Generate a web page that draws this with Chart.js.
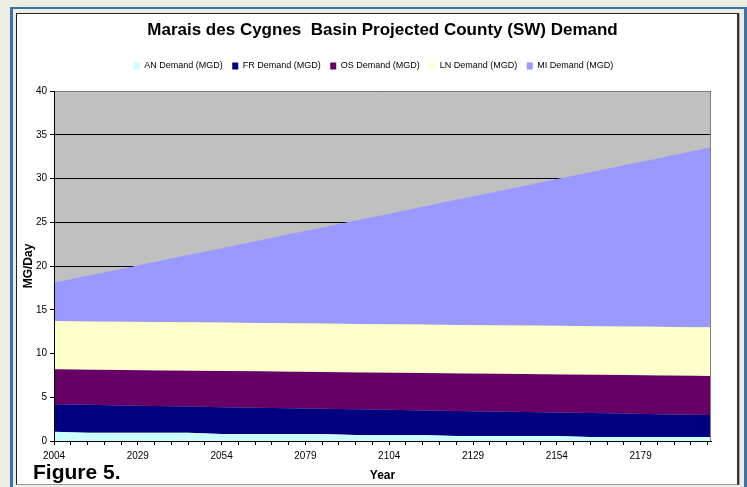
<!DOCTYPE html>
<html>
<head>
<meta charset="utf-8">
<title>Marais des Cygnes Basin Projected County (SW) Demand</title>
<script src="https://cdn.jsdelivr.net/npm/chart.js@4.4.1/dist/chart.umd.min.js"></script>
<style>
  html, body { margin: 0; padding: 0; }
  body { width: 747px; height: 487px; overflow: hidden; position: relative; background: #eceee1; }
  #frame { position: absolute; left: 10px; top: 7px; width: 737px; height: 520px; box-sizing: border-box; border: 3px solid #3f70a8; border-top-width: 2px; }
  #box { position: absolute; left: 16px; top: 13px; width: 723px; height: 472px; box-sizing: border-box; background: #fff; border: 1px solid #222; border-right: 2px solid #333; border-bottom: 1px solid #999; box-shadow: 1px 0 0 #aaa; }
  canvas { position: absolute; left: 0; top: 0; }
  #fig { position: absolute; left: 33px; top: 461px; font: bold 21px/21px 'Liberation Sans', Arial, sans-serif; color: #000; }
</style>
</head>
<body>
<div id="frame"></div>
<div id="box"></div>
<canvas id="demandChart" width="747" height="487"></canvas>
<div id="fig">Figure 5.</div>
<script>
// values (MGD), each series on its own, stacked by the chart
const years = [2004, 2014, 2024, 2034, 2044, 2054, 2064, 2074, 2084, 2094, 2104,
               2114, 2124, 2134, 2144, 2154, 2164, 2174, 2184, 2194, 2200];
const anDemand = [1.06, 0.95, 0.95, 0.95, 0.95, 0.80, 0.80, 0.80, 0.80, 0.69, 0.69,
                  0.69, 0.57, 0.57, 0.57, 0.57, 0.45, 0.45, 0.45, 0.45, 0.45];
const frDemand = [3.13, 3.18, 3.12, 3.05, 2.98, 3.07, 3.01, 2.95, 2.89, 2.93, 2.87,
                  2.81, 2.87, 2.81, 2.74, 2.68, 2.74, 2.68, 2.61, 2.55, 2.52];
const osDemand = [4.00, 4.02, 4.04, 4.07, 4.10, 4.12, 4.15, 4.17, 4.19, 4.22, 4.24,
                  4.26, 4.28, 4.30, 4.34, 4.36, 4.38, 4.40, 4.43, 4.45, 4.46];
const lnDemand = [5.52, 5.52, 5.53, 5.53, 5.53, 5.54, 5.53, 5.53, 5.54, 5.54, 5.54,
                  5.55, 5.55, 5.55, 5.55, 5.55, 5.55, 5.56, 5.56, 5.56, 5.56];
const miDemand = [4.38, 5.21, 6.03, 6.86, 7.69, 8.51, 9.34, 10.17, 10.98, 11.81, 12.64,
                  13.46, 14.29, 15.12, 15.94, 16.77, 17.60, 18.42, 19.25, 20.08, 20.57];

const seriesNames = ['AN Demand (MGD)', 'FR Demand (MGD)', 'OS Demand (MGD)', 'LN Demand (MGD)', 'MI Demand (MGD)'];
const seriesColors = ['#ccffff', '#000080', '#660066', '#ffffcc', '#9999ff'];
const seriesData = [anDemand, frDemand, osDemand, lnDemand, miDemand];

const yearLabels = [2004, 2029, 2054, 2079, 2104, 2129, 2154, 2179];
const yTicks = [0, 5, 10, 15, 20, 25, 30, 35, 40];

// minor tick every 5 years, label only every 25
const tickYears = [];
for (let y = 2004; y < 2200; y += 5) tickYears.push(y);

Chart.defaults.font.family = "'Liberation Sans', Arial, sans-serif";
Chart.defaults.color = '#000';

const plotFrame = {
  id: 'plotFrame',
  beforeDraw(chart) {
    const { ctx, chartArea: a } = chart;
    ctx.save();
    ctx.fillStyle = '#c0c0c0';
    ctx.fillRect(a.left, a.top, a.right - a.left, a.bottom - a.top);
    ctx.restore();
  },
  afterDatasetsDraw(chart) {
    const { ctx, chartArea: a } = chart;
    ctx.save();
    ctx.lineWidth = 1;
    ctx.strokeStyle = '#808080';
    ctx.beginPath();
    ctx.moveTo(a.left, a.top + 0.5);
    ctx.lineTo(a.right - 0.5, a.top + 0.5);
    ctx.lineTo(a.right - 0.5, a.bottom);
    ctx.stroke();
    ctx.strokeStyle = '#000';
    ctx.beginPath();
    ctx.moveTo(a.left + 0.5, a.top);
    ctx.lineTo(a.left + 0.5, a.bottom);
    ctx.stroke();
    ctx.restore();
  }
};

const ctx = document.getElementById('demandChart').getContext('2d');
new Chart(ctx, {
  type: 'line',
  data: {
    labels: years,
    datasets: seriesData.map((values, i) => ({
      label: seriesNames[i],
      data: values,
      backgroundColor: seriesColors[i],
      borderColor: 'rgba(0,0,0,0)',
      borderWidth: 0,
      fill: i === 0 ? 'origin' : '-1',
      pointRadius: 0,
      pointHoverRadius: 0,
      tension: 0
    }))
  },
  options: {
    responsive: false,
    animation: false,
    devicePixelRatio: 1,
    layout: { padding: { top: 14, bottom: 4, left: 0, right: 0 } },
    plugins: {
      title: {
        display: true,
        text: 'Marais des Cygnes  Basin Projected County (SW) Demand',
        fullSize: false,
        font: { size: 17, weight: 'bold' },
        padding: { top: 6, bottom: 11.6 }
      },
      legend: {
        display: true,
        position: 'top',
        labels: { font: { size: 9 }, boxWidth: 6, boxHeight: 7, padding: 9.5, color: '#000' }
      },
      // empty spacer between legend and plot
      subtitle: {
        display: true,
        text: '',
        fullSize: false,
        weight: 500,
        font: { size: 10, lineHeight: 1.05 },
        padding: 0
      },
      tooltip: { enabled: false }
    },
    scales: {
      x: {
        type: 'linear',
        min: 2004,
        max: 2200,
        z: 1,
        afterBuildTicks(scale) {
          scale.ticks = tickYears.map(v => ({ value: v }));
        },
        afterFit(scale) { scale.height = 42; },
        ticks: {
          autoSkip: false,
          maxRotation: 0,
          padding: 5.5,
          font: { size: 10 },
          callback: v => (yearLabels.includes(v) ? String(v) : '')
        },
        grid: { drawOnChartArea: false, drawTicks: true, tickLength: 4, color: '#000' },
        border: { color: '#000', width: 1 },
        title: { display: true, text: 'Year', font: { size: 12, weight: 'bold' }, padding: { top: 0, bottom: 0 } }
      },
      y: {
        stacked: true,
        min: 0,
        max: 40,
        afterBuildTicks(scale) {
          scale.ticks = yTicks.map(v => ({ value: v }));
        },
        afterFit(scale) { scale.width = 54; },
        ticks: { padding: 3, font: { size: 10 } },
        grid: { color: '#000', lineWidth: 1, tickLength: 4 },
        border: { color: '#000', width: 1 },
        title: { display: true, text: 'MG/Day', font: { size: 12, weight: 'bold' }, padding: { top: 21, bottom: 0 } }
      },
      y2: {
        position: 'right',
        display: true,
        grid: { display: false },
        border: { display: false },
        ticks: { display: false },
        afterFit(scale) { scale.width = 36; }
      }
    }
  },
  plugins: [plotFrame]
});
</script>
</body>
</html>
